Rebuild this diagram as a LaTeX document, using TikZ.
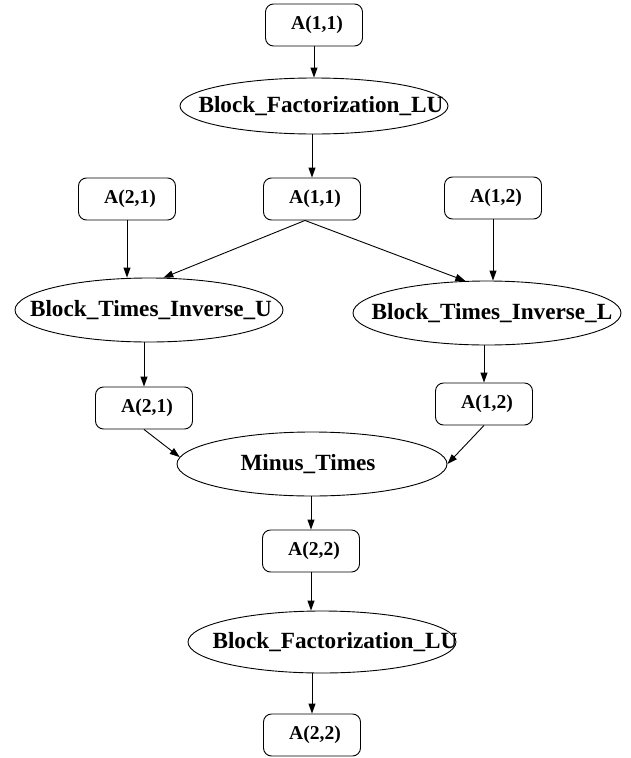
\documentclass[tikz,border=0pt]{standalone}
\usepackage{fontspec}
\setmainfont{Liberation Serif}
\usetikzlibrary{shapes.geometric,arrows.meta,calc}
\begin{document}
\begin{tikzpicture}[x=1pt,y=-1pt,
  box/.style={draw,line width=0.9pt,rounded corners=8pt,minimum width=97pt,minimum height=42pt,inner sep=0pt,font=\fontsize{19.6}{22}\selectfont\bfseries},
  ell/.style={draw,line width=0.9pt,ellipse,minimum width=268pt,minimum height=64pt,inner sep=0pt},
  lbl/.style={inner sep=0pt,font=\fontsize{23.2}{26}\selectfont\bfseries},
  edge/.style={-{Triangle[length=10pt,width=7pt]},line width=0.9pt}]
\path[use as bounding box] (0,0) rectangle (630,758);
% nodes
\node[box] (a11top) at (314,25) {\hspace*{6pt}A(1,1)};
\node[ell,minimum height=56pt] (bf1) at (314,106) {};
\node[lbl] (bf1t) at (321,106) {Block\_Factorization\_LU};
\node[box] (a11mid) at (312,199) {\hspace*{6pt}A(1,1)};
\node[box] (a21top) at (127,199) {\hspace*{6pt}A(2,1)};
\node[box] (a12top) at (493,198) {\hspace*{6pt}A(1,2)};
\node[ell] (btiu) at (149,310) {};
\node[lbl] (btiut) at (151,310) {Block\_Times\_Inverse\_U};
\node[ell] (btil) at (487,313) {};
\node[lbl] (btilt) at (492,313) {Block\_Times\_Inverse\_L};
\node[box] (a21mid) at (144,408) {\hspace*{6pt}A(2,1)};
\node[box] (a12mid) at (484,404) {\hspace*{6pt}A(1,2)};
\node[ell,minimum width=270pt] (mt) at (312,464) {};
\node[lbl] (mtt) at (308,464) {Minus\_Times};
\node[box] (a22mid) at (311,551) {\hspace*{6pt}A(2,2)};
\node[ell,minimum height=62pt] (bf2) at (322,642) {};
\node[lbl] (bf2t) at (335,642) {Block\_Factorization\_LU};
\node[box] (a22bot) at (312,735) {\hspace*{6pt}A(2,2)};
% edges
\draw[edge] (a11top) -- (bf1);
\draw[edge] (a11mid.north |- bf1.south) -- (a11mid.north);
\coordinate (split) at ($(a11mid.south)+(-7,0)$);
\draw[edge] (split) -- (btiu.66);
\draw[edge] (split) -- (btil.124);
\draw[edge] (a21top.south) -- (a21top.south |- btiu.north);
\draw[edge] (a12top.south) -- (a12top.south |- btil.north);
\draw[edge] (a21mid.north |- btiu.south) -- (a21mid.north);
\draw[edge] (a12mid.north |- btil.south) -- (a12mid.north);
\draw[edge] (a21mid.south) -- (mt.177);
\draw[edge] (a12mid.south) -- (mt.east);
\draw[edge] (a22mid.north |- mt.south) -- (a22mid.north);
\draw[edge] (a22mid.south) -- (a22mid.south |- bf2.north);
\draw[edge] (a22bot.north |- bf2.south) -- (a22bot.north);
\end{tikzpicture}
\end{document}
